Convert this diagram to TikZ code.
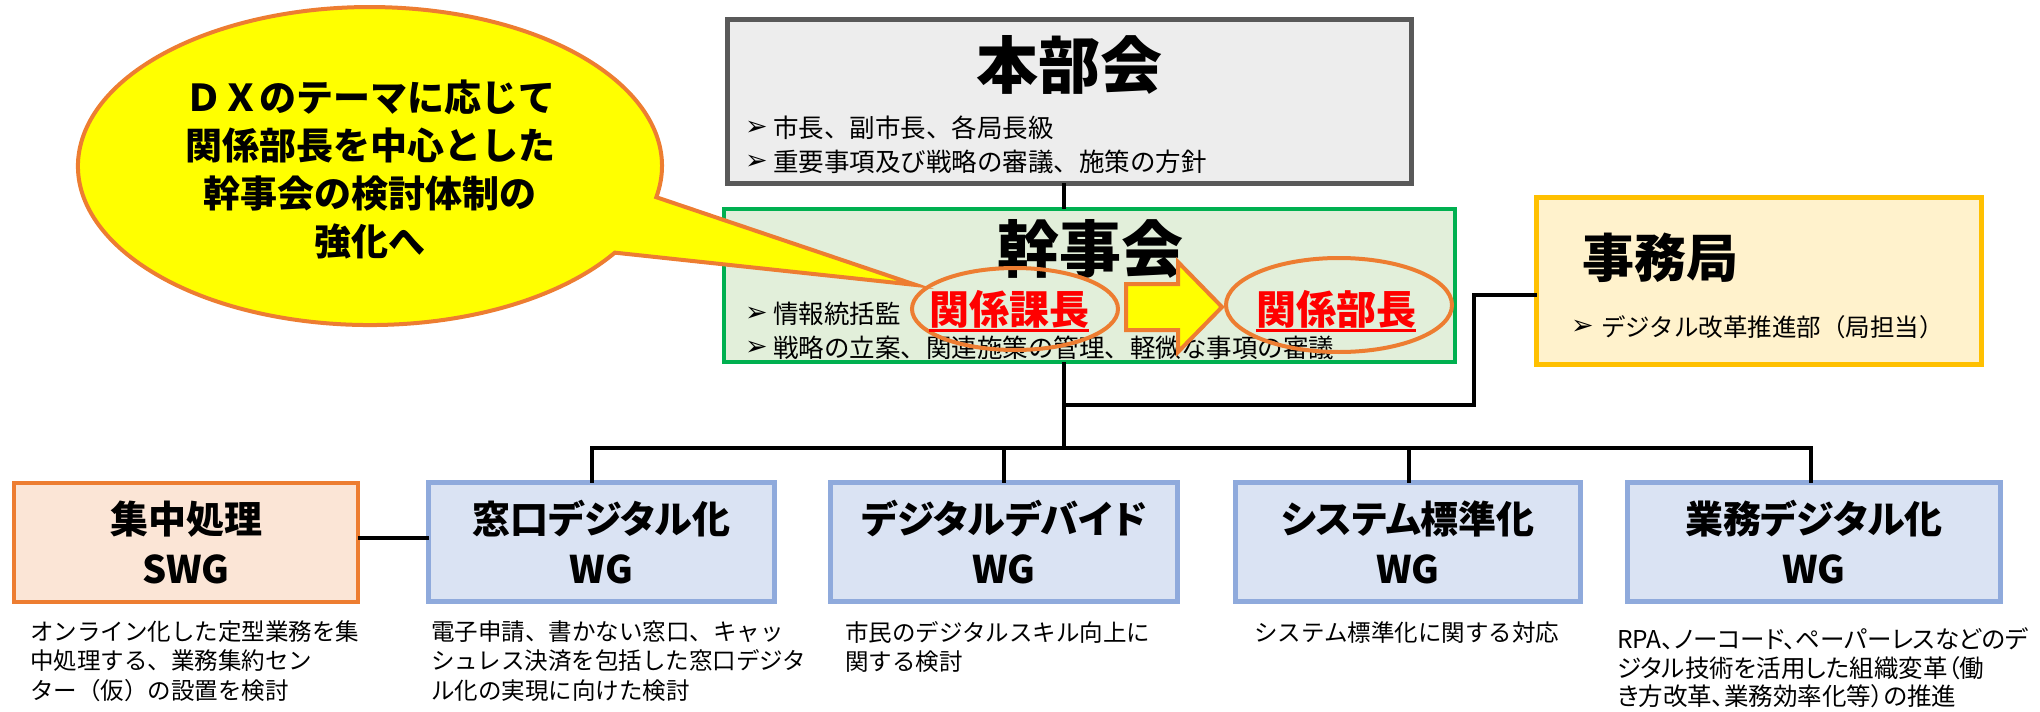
\documentclass[tikz,border=0pt]{standalone}
\usepackage{fontspec}
\setmainfont{Noto Sans CJK JP}
\newfontfamily\jpp{Noto Sans CJK JP}[RawFeature=+palt]
\newfontfamily\symfont{DejaVu Sans}
\usetikzlibrary{shapes.geometric,calc}
\definecolor{grayfill}{HTML}{EDEDED}
\definecolor{graydraw}{HTML}{595959}
\definecolor{greenfill}{HTML}{E2EFDA}
\definecolor{greendraw}{HTML}{00B050}
\definecolor{yelfill}{HTML}{FFF2CC}
\definecolor{yeldraw}{HTML}{FFC000}
\definecolor{bluefill}{HTML}{DAE3F3}
\definecolor{bluedraw}{HTML}{8FAADC}
\definecolor{orfill}{HTML}{FBE5D6}
\definecolor{ordraw}{HTML}{ED7D31}
\definecolor{bubfill}{HTML}{FFFF00}
\definecolor{redtx}{HTML}{FF0000}
\begin{document}
\begin{tikzpicture}[x=1pt,y=-1pt,
  conn/.style={line width=4pt, line join=miter, black},
  boxbase/.style={draw, rectangle, inner sep=0pt, outer sep=0pt},
  honbubox/.style={boxbase, fill=grayfill, draw=graydraw, line width=5pt},
  kanjibox/.style={boxbase, fill=greenfill, draw=greendraw, line width=4pt},
  jimubox/.style={boxbase, fill=yelfill, draw=yeldraw, line width=5pt},
  wgbox/.style={boxbase, fill=bluefill, draw=bluedraw, line width=5pt, minimum height=119pt,
     align=center, font=\jpp\bfseries\fontsize{38}{50}\selectfont},
  swgbox/.style={wgbox, fill=orfill, draw=ordraw, line width=4pt},
  bigttl/.style={inner sep=0pt, font=\bfseries\fontsize{62}{62}\selectfont},
  bul/.style={inner sep=0pt, anchor=west, font=\symfont\fontsize{27}{27}\selectfont},
  btxt/.style={inner sep=0pt, anchor=west, font=\fontsize{25.5}{25.5}\selectfont},
  desc/.style={inner sep=0pt, anchor=west, align=left, font=\fontsize{23.5}{29.5}\selectfont},
  redtxt/.style={inner sep=0pt, text=redtx, font=\bfseries\fontsize{40}{40}\selectfont},
  oval/.style={ellipse, draw=ordraw, line width=4pt, inner sep=0pt},
  bubble/.style={fill=bubfill, draw=ordraw, line width=4pt, line join=miter},
  bigarrow/.style={fill=bubfill, draw=ordraw, line width=4pt, line join=miter}
]
\useasboundingbox (0,0) rectangle (2040,712);

% ---------- boxes ----------
\node[honbubox, minimum width=684pt, minimum height=164pt] (honbu) at (1069,101) {};
\node[kanjibox, minimum width=731pt, minimum height=153pt] (kanji) at (1089.5,285.5) {};
\node[jimubox, minimum width=445pt, minimum height=167pt] (jimu) at (1759,281) {};

\node[swgbox, minimum width=344pt] (shuchu) at (186,542) {集中処理\\SWG};
\node[wgbox, minimum width=346pt] (mado) at (601.5,542) {窓口デジタル化\\WG};
\node[wgbox, minimum width=347pt] (divide) at (1004,542) {デジタルデバイド\\WG};
\node[wgbox, minimum width=345pt] (sys) at (1408,542) {システム標準化\\WG};
\node[wgbox, minimum width=373pt] (gyomu) at (1814,542) {業務デジタル化\\WG};

% ---------- connectors ----------
\coordinate (tx) at (1064,0);
\coordinate (bus) at (1064,448);
\coordinate (b1) at (592,448);
\coordinate (b2) at (1004,448);
\coordinate (b3) at (1409,448);
\coordinate (b4) at (1811,448);
\coordinate (jx) at (1474,295);
\coordinate (jy) at (1474,405);
\draw[conn] (tx |- honbu.south) -- (tx |- kanji.north);
\draw[conn] (tx |- kanji.south) -- (bus);
\draw[conn] (b1 |- mado.north) -- (b1) -- (b4) -- (b4 |- gyomu.north);
\draw[conn] (b2) -- (b2 |- divide.north);
\draw[conn] (b3) -- (b3 |- sys.north);
\draw[conn] (jimu.west |- jx) -- (jx) -- (jy) -- (tx |- jy);
\draw[conn] ([yshift=4pt]shuchu.east) -- ([yshift=4pt]shuchu.east -| mado.west);

% ---------- texts in upper boxes ----------
\node[bigttl] (honbuT) at (1069,65) {本部会};
\node[bul] (hb1) at (745,128) {➢};
\node[btxt] (ht1) at (773,128) {市長、副市長、各局長級};
\node[bul] (hb2) at (745,162) {➢};
\node[btxt] (ht2) at (773,162) {重要事項及び戦略の審議、施策の方針};

\node[bigttl] (kanjiT) at (1090,249) {幹事会};
\node[bul] (kb1) at (745,314) {➢};
\node[btxt] (kt1) at (773,314) {情報統括監};
\node[bul] (kb2) at (745,348) {➢};
\node[btxt] (kt2) at (773,348) {戦略の立案、関連施策の管理、軽微な事項の審議};

\node[bigttl, anchor=west, font=\bfseries\fontsize{52}{52}\selectfont] (jimuT) at (1582,258) {事務局};
\node[bul] (jb1) at (1571,327) {➢};
\node[btxt, font=\fontsize{24.5}{24.5}\selectfont] (jt1) at (1601,327) {デジタル改革推進部（局担当）};

% ---------- descriptions ----------
\node[desc] (d1) at (30,661) {オンライン化した定型業務を集\\中処理する、業務集約セン\\ター（仮）の設置を検討};
\node[desc] (d2) at (431,661) {電子申請、書かない窓口、キャッ\\シュレス決済を包括した窓口デジタ\\ル化の実現に向けた検討};
\node[desc] (d3) at (845,647) {市民のデジタルスキル向上に\\関する検討};
\node[desc] (d4) at (1254,633) {システム標準化に関する対応};
\node[desc, font=\jpp\fontsize{24.5}{28.5}\selectfont] (d5) at (1617,668) {RPA、ノーコード、ペーパーレスなどのデ\\ジタル技術を活用した組織変革（働\\き方改革、業務効率化等）の推進};

% ---------- speech bubble ----------
\draw[bubble] (916,285) -- (656.3,197.2) arc[start angle=11.3, end angle=-327, x radius=292, y radius=159] -- cycle;
\node[inner sep=0pt, align=center, font=\bfseries\fontsize{37}{48}\selectfont] (bubT) at (370,170)
  {ＤＸのテーマに応じて\\関係部長を中心とした\\幹事会の検討体制の\\強化へ};

% ---------- ovals and arrow ----------
\node[oval, minimum width=206pt, minimum height=82pt] (e1) at (1015,309) {};
\node[oval, minimum width=226pt, minimum height=94pt] (e2) at (1339,305) {};
\draw[bigarrow] (1126,284) -- (1178,284) -- (1178,262) -- (1222,307) -- (1178,352) -- (1178,330) -- (1126,330) -- cycle;

\node[redtxt] (k1) at (1009,309) {関係課長};
\node[redtxt] (k2) at (1336,309) {関係部長};
\draw[redtx, line width=3pt] ($(k1.south west)+(0,2)$) -- ($(k1.south east)+(0,2)$);
\draw[redtx, line width=3pt] ($(k2.south west)+(0,2)$) -- ($(k2.south east)+(0,2)$);
\end{tikzpicture}
\end{document}
